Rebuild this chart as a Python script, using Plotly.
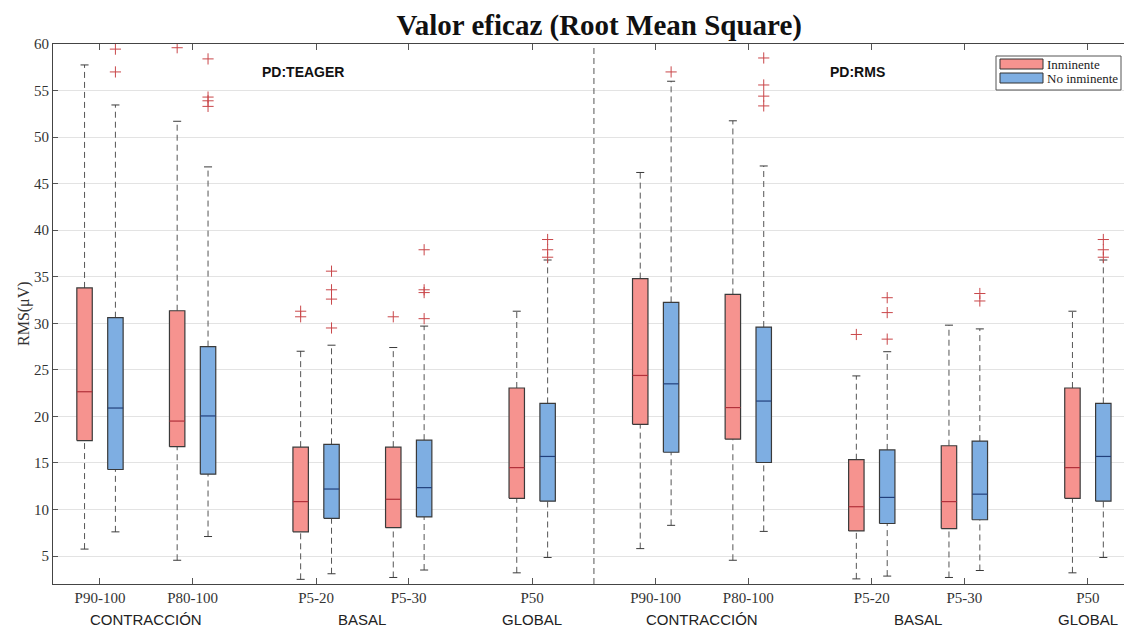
import plotly.graph_objects as go

# ---------------- data ----------------
positions = [1, 4, 8, 11, 15, 19, 22, 26, 29, 33]
tick_labels = ["P90-100", "P80-100", "P5-20", "P5-30", "P50",
               "P90-100", "P80-100", "P5-20", "P5-30", "P50"]
group_labels = ["CONTRACCIÓN", "BASAL", "GLOBAL", "CONTRACCIÓN", "BASAL", "GLOBAL"]
group_centers = [2.5, 9.5, 15, 20.5, 27.5, 33]
panel_labels = ["PD:TEAGER", "PD:RMS"]
panel_x = [7.56, 25.55]
divider_x = 17

series_names = ["Inminente", "No inminente"]

inm_low = [5.75, 4.55, 2.5, 2.7, 3.2, 5.8, 4.55, 2.55, 2.7, 3.2]
inm_q1 = [17.4, 16.75, 7.6, 8.05, 11.2, 19.15, 17.55, 7.7, 7.95, 11.2]
inm_med = [22.65, 19.5, 10.85, 11.1, 14.5, 24.4, 20.95, 10.3, 10.85, 14.5]
inm_q3 = [33.8, 31.35, 16.7, 16.7, 23.05, 34.8, 33.1, 15.35, 16.85, 23.05]
inm_high = [57.75, 51.7, 27.0, 27.4, 31.3, 46.2, 51.75, 24.35, 29.8, 31.3]
inm_out = [[], [59.6], [31.3, 30.7], [30.7], [], [], [], [28.8], [], []]

noi_low = [7.6, 7.1, 3.1, 3.5, 4.85, 8.3, 7.65, 2.85, 3.45, 4.85]
noi_q1 = [14.3, 13.8, 9.05, 9.2, 10.9, 16.15, 15.05, 8.5, 8.9, 10.9]
noi_med = [20.9, 20.05, 12.2, 12.35, 15.7, 23.5, 21.65, 11.3, 11.65, 15.7]
noi_q3 = [30.6, 27.5, 17.0, 17.45, 21.4, 32.25, 29.6, 16.4, 17.35, 21.4]
noi_high = [53.45, 46.8, 27.65, 29.7, 36.8, 56.0, 46.9, 26.95, 29.4, 36.8]
noi_out = [[59.45, 57.0], [58.4, 54.3, 53.9, 53.3], [35.6, 33.6, 32.6, 29.5],
           [37.9, 33.6, 33.3, 30.5], [39.0, 37.9, 37.1], [57.0],
           [58.5, 55.6, 54.4, 53.35], [32.75, 31.15, 28.3], [33.2, 32.4],
           [39.0, 37.9, 37.1]]

# ---------------- style ----------------
W, H = 1124, 630
ML, MR, MT, MB = 53, 0, 44, 46
offsets = [-0.5, 0.5]
box_w = 0.5
cap_w = 0.26
fills = ["#F6938F", "#7EAEE2"]
median_colors = ["#B2313B", "#22407C"]
edge_color = "#3A3A3A"
whisker_color = "#555555"
outlier_color = "#C9474A"
serif = "Liberation Serif, Times New Roman, serif"
sans = "Liberation Sans, Arial, sans-serif"


def px_to_paper_x(px):
    return (px - ML) / (W - ML - MR)


def px_to_paper_y(py):
    return (H - MB - py) / (H - MT - MB)


stats = [
    (inm_low, inm_q1, inm_med, inm_q3, inm_high, inm_out),
    (noi_low, noi_q1, noi_med, noi_q3, noi_high, noi_out),
]

fig = go.Figure()

for si, (low, q1, med, q3, high, outs) in enumerate(stats):
    xs_c = [p + offsets[si] for p in positions]
    # whiskers (dashed)
    wx, wy = [], []
    for c, lo, a, b, hi in zip(xs_c, low, q1, q3, high):
        wx += [c, c, None, c, c, None]
        wy += [b, hi, None, lo, a, None]
    fig.add_trace(go.Scatter(x=wx, y=wy, mode="lines", showlegend=False,
                             hoverinfo="skip",
                             line=dict(color=whisker_color, width=1, dash="6px,4px")))
    # caps
    cx, cy = [], []
    for c, lo, hi in zip(xs_c, low, high):
        cx += [c - cap_w / 2, c + cap_w / 2, None, c - cap_w / 2, c + cap_w / 2, None]
        cy += [hi, hi, None, lo, lo, None]
    fig.add_trace(go.Scatter(x=cx, y=cy, mode="lines", showlegend=False,
                             hoverinfo="skip",
                             line=dict(color=edge_color, width=1)))
    # boxes
    bx, by = [], []
    for c, a, b in zip(xs_c, q1, q3):
        bx += [c - box_w / 2, c + box_w / 2, c + box_w / 2, c - box_w / 2, c - box_w / 2, None]
        by += [a, a, b, b, a, None]
    fig.add_trace(go.Scatter(x=bx, y=by, mode="lines", fill="toself",
                             fillcolor=fills[si], name=series_names[si],
                             showlegend=False,
                             line=dict(color=edge_color, width=1.2),
                             hoverinfo="skip"))
    # medians
    mx, my = [], []
    for c, m in zip(xs_c, med):
        mx += [c - box_w / 2, c + box_w / 2, None]
        my += [m, m, None]
    fig.add_trace(go.Scatter(x=mx, y=my, mode="lines", showlegend=False,
                             hoverinfo="skip",
                             line=dict(color=median_colors[si], width=1.2)))
    # outliers
    ox, oy = [], []
    for c, o in zip(xs_c, outs):
        for v in o:
            ox.append(c)
            oy.append(v)
    fig.add_trace(go.Scatter(x=ox, y=oy, mode="markers", showlegend=False,
                             hoverinfo="skip",
                             marker=dict(symbol="cross-thin-open", size=8,
                                         color=outlier_color,
                                         line=dict(color=outlier_color, width=1))))

# divider line
fig.add_shape(type="line", xref="x", yref="paper", x0=divider_x, x1=divider_x,
              y0=0, y1=1, line=dict(color="#555555", width=1, dash="6px,4px"))

# legend box (drawn like the MATLAB legend)
fig.add_shape(type="rect", xref="paper", yref="paper",
              x0=px_to_paper_x(996), x1=px_to_paper_x(1121),
              y0=px_to_paper_y(90), y1=px_to_paper_y(56),
              line=dict(color="#555555", width=1), fillcolor="white", layer="above")
for i, (nm, fc) in enumerate(zip(series_names, fills)):
    top = 59 + i * 14
    fig.add_shape(type="rect", xref="paper", yref="paper",
                  x0=px_to_paper_x(1000), x1=px_to_paper_x(1043),
                  y0=px_to_paper_y(top + 10), y1=px_to_paper_y(top),
                  line=dict(color="#333333", width=1), fillcolor=fc, layer="above")
    fig.add_annotation(x=px_to_paper_x(1045), y=px_to_paper_y(top + 5),
                       xref="paper", yref="paper", xanchor="left", yanchor="middle",
                       text=nm, showarrow=False,
                       font=dict(family=serif, size=13, color="#222"))

# panel labels
for lab, px in zip(panel_labels, panel_x):
    fig.add_annotation(x=px, y=57.0, xref="x", yref="y", text="<b>" + lab + "</b>",
                       showarrow=False, font=dict(family=sans, size=14, color="#111"))

# group labels
for lab, gx in zip(group_labels, group_centers):
    fig.add_annotation(x=gx, y=px_to_paper_y(619), xref="x", yref="paper", text=lab,
                       showarrow=False, yanchor="middle", borderpad=0,
                       font=dict(family=sans, size=15, color="#222"))

# y-axis title
fig.add_annotation(x=0, y=0.5, xref="paper", yref="paper", xshift=-40,
                   text="RMS(μV)", textangle=-90, showarrow=False,
                   font=dict(family=serif, size=16, color="#333"))

fig.update_layout(
    width=W, height=H,
    margin=dict(l=ML, r=MR, t=MT, b=MB),
    paper_bgcolor="white", plot_bgcolor="white",
    title=dict(text="<b>Valor eficaz (Root Mean Square)</b>",
               x=0.51, xref="paper", xanchor="center",
               y=1 - 25 / H, yref="container", yanchor="middle",
               font=dict(family=serif, size=29, color="#111")),
    showlegend=False,
    xaxis=dict(range=[-0.522, 34.17], tickmode="array", tickvals=positions,
               ticktext=tick_labels, ticks="inside", ticklen=6,
               tickcolor="#555", showline=True, linecolor="#444", linewidth=1,
               mirror="ticks", showgrid=False, zeroline=False,
               tickfont=dict(family=serif, size=15, color="#333")),
    yaxis=dict(range=[2, 60], tickvals=list(range(5, 61, 5)),
               ticks="inside", ticklen=5, tickcolor="#555",
               showline=True, linecolor="#444", linewidth=1, mirror=False,
               showgrid=True, gridcolor="#E3E3E3", gridwidth=1, zeroline=False,
               tickfont=dict(family=serif, size=15, color="#333")),
)

fig.write_html("out.html", config={"displayModeBar": False},
               post_script="document.body.style.margin='0';document.body.style.overflow='hidden';")
